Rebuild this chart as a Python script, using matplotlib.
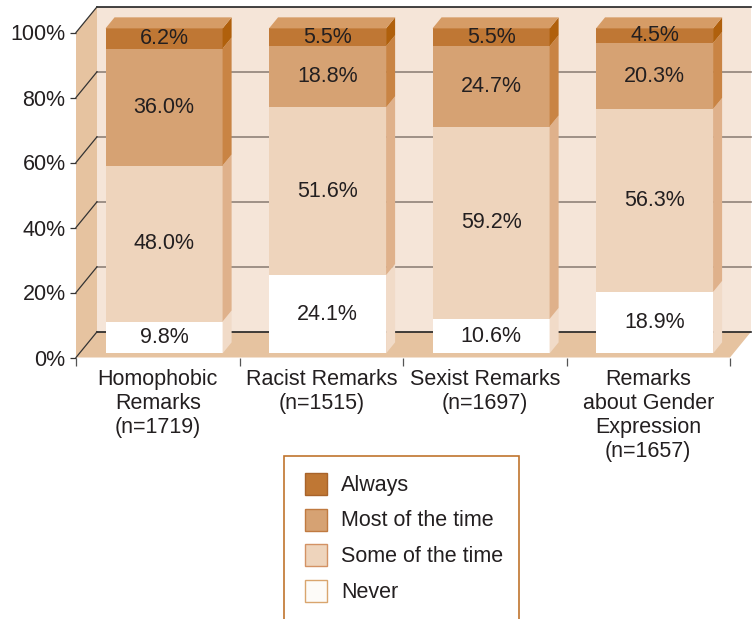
import matplotlib.pyplot as plt
from matplotlib.patches import Polygon, Rectangle
import numpy as np

plt.rcParams['font.family'] = ['Liberation Sans', 'DejaVu Sans']

categories = ['Homophobic\nRemarks\n(n=1719)', 'Racist Remarks\n(n=1515)',
              'Sexist Remarks\n(n=1697)', 'Remarks\nabout Gender\nExpression\n(n=1657)']
series = ['Never', 'Some of the time', 'Most of the time', 'Always']
never = [9.8, 24.1, 10.6, 18.9]
some = [48.0, 51.6, 59.2, 56.3]
most = [36.0, 18.8, 24.7, 20.3]
always = [6.2, 5.5, 5.5, 4.5]
yticks = [0, 20, 40, 60, 80, 100]

front_cols = ['#FFFFFF', '#EED4BC', '#D6A273', '#BF7734']
side_cols = ['#F1DBC8', '#DFB18B', '#C98444', '#B0600C']
top_col = '#D69C66'
wall_col = '#F5E5D8'
side_wall_col = '#E6C3A0'
legend_edge = ['#D9A56E', '#D39264', '#C07A40', '#A8632A']
FS = 15.5
TXT = '#231F20'

W, H = 756, 619
fig = plt.figure(figsize=(W / 100, H / 100), dpi=100)
ax = fig.add_axes([76 / W, 261.5 / H, 654 / W, 325 / H])
ax.set_xlim(0, 4)
ax.set_ylim(0, 100)
for s in ax.spines.values():
    s.set_visible(False)

# depth of the "3d" box in data units
DX, DY = 0.1284, 7.9
n = len(categories)


def poly(pts, color, z, **kw):
    ax.add_patch(Polygon(pts, closed=True, facecolor=color, edgecolor='none',
                         zorder=z, clip_on=False, **kw))


# walls and floor
poly([(DX, DY), (n + DX, DY), (n + DX, 100 + DY), (DX, 100 + DY)], wall_col, 0)
poly([(0, 0), (DX, DY), (DX, 100 + DY), (0, 100)], side_wall_col, 0.5)
poly([(0, 0), (n, 0), (n + DX, DY), (DX, DY)], side_wall_col, 0.5)

for t in yticks:
    c = '#222222' if t in (0, 100) else '#8F8279'
    ax.plot([DX, n + DX], [t + DY, t + DY], color=c, lw=1.2, zorder=1, clip_on=False)
    ax.plot([0, DX], [t, t + DY], color='#333333', lw=0.9, zorder=1, clip_on=False)

# bars
f = 0.16
bd = 0.43
bw = 0.716
gap = 0.16
stack = np.array([never, some, most, always])
for i in range(n):
    x0 = i + gap + f * DX
    x1 = x0 + bw
    base = f * DY
    ddx, ddy = bd * DX, bd * DY
    for k in range(len(series)):
        v = stack[k][i]
        y0, y1 = base, base + v
        poly([(x0, y0), (x1, y0), (x1, y1), (x0, y1)], front_cols[k], 3)
        poly([(x1, y0), (x1 + ddx, y0 + ddy), (x1 + ddx, y1 + ddy), (x1, y1)], side_cols[k], 3)
        ax.text((x0 + x1) / 2, (y0 + y1) / 2, f'{v:.1f}%', ha='center', va='center',
                fontsize=FS, color=TXT, zorder=5)
        base = y1
    poly([(x0, base), (x1, base), (x1 + ddx, base + ddy), (x0 + ddx, base + ddy)], top_col, 3)

# axes ticks and labels
ax.set_yticks(yticks)
ax.set_yticklabels([f'{t}%' for t in yticks], fontsize=FS, color=TXT)
ax.set_xticks(range(n + 1))
ax.set_xticklabels([])
ax.set_xticks(np.arange(n) + 0.5, minor=True)
ax.set_xticklabels(categories, minor=True, fontsize=FS, color=TXT, va='top', linespacing=1.2)
ax.tick_params(axis='y', length=4.5, width=0.9, color='#333333', pad=3)
ax.tick_params(axis='x', which='major', length=6, width=0.9, color='#555555')
ax.tick_params(axis='x', which='minor', length=0, pad=8)

# legend box (bottom runs off the figure)
lg = fig.add_axes([0, 0, 1, 1], zorder=10)
lg.set_xlim(0, W)
lg.set_ylim(H, 0)
lg.axis('off')
lg.patch.set_alpha(0)
lg.add_patch(Rectangle((284, 456), 235, 180, facecolor='white', edgecolor='#C0742E', lw=1.2))
rows = [484, 520, 555, 591]
for k, name in enumerate(series[::-1]):
    kk = len(series) - 1 - k
    fc = '#FDFBF8' if kk == 0 else front_cols[kk]
    lg.add_patch(Rectangle((305, rows[k] - 11), 22, 22, facecolor=fc,
                           edgecolor=legend_edge[kk], lw=1.0))
    lg.text(341, rows[k] + 1, name, ha='left', va='center', fontsize=FS, color=TXT)

fig.savefig('out.png', dpi=100)
